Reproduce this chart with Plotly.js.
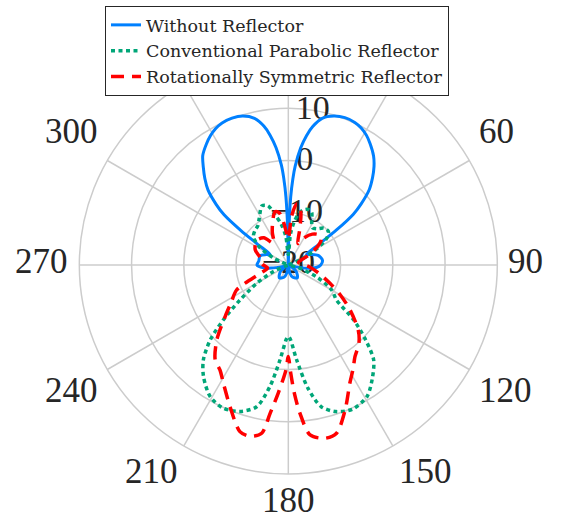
<!DOCTYPE html>
<html>
<head>
<meta charset="utf-8">
<script src="https://cdn.plot.ly/plotly-3.0.1.min.js"></script>
<style>
  html, body { margin: 0; padding: 0; background: #ffffff; }
  #chart { width: 565px; height: 519px; }
</style>
</head>
<body>
<div id="chart"></div>
<script>
// Radiation patterns in dB, angle measured clockwise from the top (degrees)

const thetaWithout = [0, 1, 2, 3, 4, 6, 8, 10, 13, 17, 21, 25, 28, 31, 34, 38, 41, 44, 47, 50, 52, 54, 56, 60, 65, 72, 82, 90, 95, 100, 105, 110, 120, 130, 145, 160, 170, 180,
  190, 200, 215, 230, 240, 250, 255, 260, 265, 270, 278, 288, 295, 300, 304, 306, 308, 310, 313, 316, 319, 322, 326, 329, 332, 335, 339, 343, 347, 350, 352, 354, 356, 357, 358, 359, 360];
const gainWithout = [-20, -13, -7, -3.5, -1, 2.5, 5, 6.9, 8.8, 9.8, 10.2, 10.1, 9.7, 9.0, 8.0, 6.5, 5.0, 3.2, 1.2, -1.8, -4.2, -8.6, -13, -16, -15.2, -14, -13.4, -13.8, -14.6, -16.4, -19, -20, -19.5, -18, -17, -17.5, -18.5, -20,
  -18.5, -17.5, -17, -18, -19.5, -20, -19, -16.6, -14.8, -14, -14.3, -14.3, -15.3, -16, -13, -8.8, -4.4, -2, 1.0, 3.0, 4.8, 6.6, 8.0, 8.9, 9.6, 10.0, 10.1, 9.8, 8.8, 7.0, 5.1, 2.6, -0.8, -3.4, -7, -13, -20];

const thetaParabolic = [0, 4, 8, 12, 16, 20, 24, 28, 33, 38, 44, 50, 55, 60, 66, 72, 90, 105, 113, 120, 126, 130, 134, 138, 143, 149, 156, 162, 167, 171, 175, 178.5, 180,
  181.5, 185, 188.6, 192.6, 198.2, 204.4, 210.7, 217.3, 221.8, 226.2, 229.8, 234.1, 239.9, 247, 255, 270, 288, 295, 302, 309, 316, 322, 328, 336, 341, 345, 350, 355, 360];
const gainParabolic = [-18, -14, -11.5, -9.8, -9.0, -8.7, -9.0, -10.5, -11.5, -11.2, -10.2, -10.0, -11.0, -13.5, -17, -20, -20, -18, -14, -10.4, -8.6, -3.7, 0.5, 4.4, 6.8, 9.3, 10.2, 9.5, 7.8, 3.8, -1.8, -5.8, -6.3,
  -5.8, -1.8, 3.5, 7.8, 9.5, 10.1, 9.3, 6.8, 4.4, 0.7, -3.7, -8.6, -13, -17, -20, -20, -20, -17, -13.5, -11.4, -10.8, -10.5, -9.5, -7.6, -8.0, -10, -12, -14.5, -18];

const thetaSymmetric = [0, 4, 8, 11, 14, 18, 24, 30, 38, 45, 52, 58, 65, 75, 85, 95, 105, 113.7, 120, 126, 133, 138, 144, 148, 152.5, 158.6, 164, 168, 172.7, 175.5, 177.3, 178.8, 180,
  181.3, 184.5, 187, 189, 192.6, 196.2, 202.4, 208.8, 213, 217.7, 223.7, 230.8, 237, 244.2, 253.6, 262, 272, 284, 295, 308, 318, 326, 334, 341, 346, 350, 354, 357, 360];
const gainSymmetric = [-15, -10.5, -8.2, -8.5, -10, -13, -15.5, -14, -12.5, -11.8, -12, -13.5, -16, -18, -17.5, -16, -14, -11.3, -8.5, -5.4, -1.7, 0.2, 1.7, 3.4, 5.5, 9.8, 13.5, 13.9, 12.8, 8.5, 4.6, 0.5, -2.5,
  0.1, 4.6, 8.6, 12.6, 13.6, 13.2, 9.3, 5.8, 4, 2.9, -0.2, -4.4, -7, -9, -14.4, -16, -15, -14.5, -13, -12.3, -13, -15, -13, -10.9, -9.5, -9.8, -12, -14, -15];

// Angular grid every 30 degrees; labels for the ones left uncovered by the legend
const angleTicks = [0, 30, 60, 90, 120, 150, 180, 210, 240, 270, 300, 330];
const angleLabelValues = [60, 90, 120, 150, 180, 210, 240, 270, 300];
const angleLabelTexts = ['60', '90', '120', '150', '180', '210', '240', '270', '300'];

// Radial scale labels
const radialTickValues = [-20, -10, 0, 10];
const radialTickLabels = ['\u221220', '\u221210', '0', '10'];
const radialLabelAngle = 9;

const W = 565, H = 519;
const tickFamily = 'Liberation Serif, DejaVu Serif, serif';
const legendFamily = 'DejaVu Serif, Liberation Serif, serif';
const textColor = '#262626';
const gridColor = '#cccccc';

// Polar area (paper fractions) and where the angle labels sit outside the rim
const polarDomain = { x: [0.1404, 0.8802], y: [0.0867, 0.8921] };
const labelGap = 10;

// Place each angle label just outside the rim, anchored on its corner nearest the centre
function angleLabelAnnotations() {
  const cx = (polarDomain.x[0] + polarDomain.x[1]) / 2;
  const cy = (polarDomain.y[0] + polarDomain.y[1]) / 2;
  const rimPx = Math.min((polarDomain.x[1] - polarDomain.x[0]) * W,
                         (polarDomain.y[1] - polarDomain.y[0]) * H) / 2;
  const rPx = rimPx + labelGap;
  return angleLabelValues.map((deg, i) => {
    const a = deg * Math.PI / 180;
    const s = Math.sin(a), c = Math.cos(a);
    return {
      xref: 'paper', yref: 'paper',
      x: cx + rPx * s / W,
      y: cy + rPx * c / H,
      text: angleLabelTexts[i],
      showarrow: false,
      xanchor: s > 0.01 ? 'left' : (s < -0.01 ? 'right' : 'center'),
      yanchor: c > 0.01 ? 'bottom' : (c < -0.01 ? 'top' : 'middle'),
      yshift: 4,
      borderpad: 0,
      font: { family: tickFamily, size: 35, color: textColor }
    };
  });
}

const traces = [
  {
    type: 'scatterpolar',
    mode: 'text',
    r: radialTickValues,
    theta: radialTickValues.map(() => radialLabelAngle),
    text: radialTickLabels,
    textposition: 'middle center',
    textfont: { family: tickFamily, size: 34, color: textColor },
    showlegend: false,
    hoverinfo: 'skip'
  },
  {
    type: 'scatterpolar',
    mode: 'lines',
    name: 'Without Reflector',
    r: gainWithout,
    theta: thetaWithout,
    line: { color: 'rgb(0,128,255)', width: 3, shape: 'spline', smoothing: 0.8 }
  },
  {
    type: 'scatterpolar',
    mode: 'lines',
    name: 'Conventional Parabolic Reflector',
    r: gainParabolic,
    theta: thetaParabolic,
    line: { color: 'rgb(0,166,120)', width: 3.5, dash: '4px,3.5px', shape: 'spline', smoothing: 0.8 }
  },
  {
    type: 'scatterpolar',
    mode: 'lines',
    name: 'Rotationally Symmetric Reflector',
    r: gainSymmetric,
    theta: thetaSymmetric,
    line: { color: 'rgb(255,0,0)', width: 3.5, dash: '13px,8px', shape: 'spline', smoothing: 0.8 }
  }
];

const layout = {
  width: W,
  height: H,
  margin: { l: 0, r: 0, t: 0, b: 0 },
  paper_bgcolor: '#ffffff',
  font: { family: tickFamily, color: textColor },
  showlegend: true,
  legend: {
    x: 105 / W, y: 1 - 6 / H, xanchor: 'left', yanchor: 'top',
    bgcolor: '#ffffff', bordercolor: '#262626', borderwidth: 1,
    font: { family: legendFamily, size: 17.5, color: textColor },
    tracegroupgap: 0
  },
  annotations: angleLabelAnnotations(),
  polar: {
    domain: polarDomain,
    bgcolor: '#ffffff',
    radialaxis: {
      range: [-20, 20],
      dtick: 10,
      showticklabels: false,
      ticks: '',
      showline: false,
      gridcolor: gridColor,
      gridwidth: 1.5
    },
    angularaxis: {
      rotation: 90,
      direction: 'clockwise',
      tickmode: 'array',
      tickvals: angleTicks,
      showticklabels: false,
      ticks: '',
      showline: true,
      linecolor: gridColor,
      linewidth: 1.5,
      gridcolor: gridColor,
      gridwidth: 1.5
    }
  }
};

Plotly.newPlot('chart', traces, layout, { displayModeBar: false, staticPlot: true });
</script>
</body>
</html>
